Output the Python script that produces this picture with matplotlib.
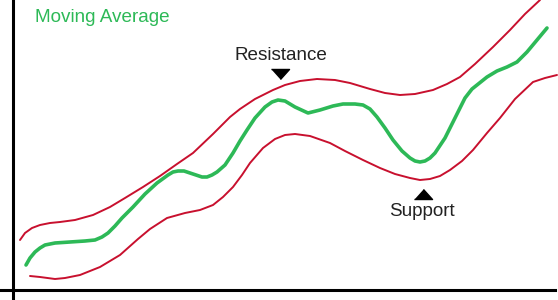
import matplotlib.pyplot as plt

# positions, in pixels (y grows downward)
ma_x = [26, 30, 35, 40, 45, 55, 70, 85, 95, 102, 108, 115, 122, 133, 145, 157, 168, 173,
        178, 184, 190, 196, 202, 207, 212, 217, 225, 233, 240, 247, 255, 265, 272,
        278, 285, 295, 308, 320, 333, 343, 355, 363, 370, 377, 385, 393, 402, 410,
        415, 420, 425, 430, 435, 445, 455, 465, 472, 477, 487, 497, 507, 517, 527,
        537, 547]
ma_y = [265, 258, 252, 248, 245, 243, 242, 241, 240, 237, 233, 226, 218, 207, 194, 183,
        175, 172, 171, 171, 173, 175, 177, 177, 175, 172, 165, 153, 141, 130, 118,
        107, 102, 100, 101, 107, 113, 110, 106, 104, 104, 105, 109, 117, 128, 140,
        151, 158, 161, 162, 161, 158, 153, 138, 118, 98, 89, 85, 77, 71, 67, 62,
        52, 40, 28]

upper_x = [20, 25, 32, 40, 50, 60, 75, 93, 110, 125, 143, 160, 177, 193, 213, 230,
           240, 255, 273, 285, 300, 317, 335, 350, 370, 385, 400, 415, 433, 447,
           460, 475, 493, 510, 525, 540]
upper_y = [240, 233, 228, 225, 223, 222, 220, 215, 207, 198, 187, 176, 164, 153, 134, 117,
           109, 99, 90, 85, 81, 79, 80, 83, 89, 93, 95, 94, 90, 84,
           77, 64, 47, 30, 14, 0]

lower_x = [30, 40, 55, 65, 80, 100, 120, 138, 150, 167, 185, 200, 213, 223, 233, 242,
           250, 263, 275, 285, 295, 310, 330, 345, 363, 380, 395, 410, 420, 430,
           440, 450, 462, 473, 487, 500, 515, 533, 545, 557]
lower_y = [276, 277, 279, 278, 275, 267, 255, 239, 229, 218, 213, 210, 205, 197, 187, 175,
           163, 148, 139, 135, 134, 136, 143, 151, 160, 168, 174, 178, 180, 179,
           176, 170, 161, 150, 133, 118, 99, 82, 78, 75]

GREEN = '#2db957'
RED = '#c8102e'
TXT = '#222222'

fig = plt.figure(figsize=(5.58, 3.0), dpi=100)
ax = fig.add_axes([0, 0, 1, 1])
ax.set_xlim(0, 558)
ax.set_ylim(300, 0)

ax.plot(upper_x, upper_y, color=RED, lw=1.4, solid_capstyle='round', solid_joinstyle='round')
ax.plot(lower_x, lower_y, color=RED, lw=1.4, solid_capstyle='round', solid_joinstyle='round')
ax.plot(ma_x, ma_y, color=GREEN, lw=2.6, solid_capstyle='round', solid_joinstyle='round')

# axis lines
for s in ['top', 'right']:
    ax.spines[s].set_visible(False)
ax.spines['left'].set_position(('data', 13))
ax.spines['left'].set_bounds(0, 298)
ax.spines['bottom'].set_position(('data', 290))
ax.spines['bottom'].set_bounds(0, 555)
for s in ['left', 'bottom']:
    ax.spines[s].set_linewidth(2.2)
    ax.spines[s].set_color('black')
ax.set_xticks([])
ax.set_yticks([])
ax.patch.set_alpha(0)

font = 'Liberation Sans'
ax.text(35, 18, 'Moving Average', color=GREEN, fontsize=13.6, family=font,
        ha='left', va='center')

down_tri = [(-9, 5), (9, 5), (0, -5)]
up_tri = [(-9, -5), (9, -5), (0, 5)]
ax.plot([280], [74], marker=down_tri, markersize=13, color='black', ls='none')
ax.text(281, 55, 'Resistance', color=TXT, fontsize=13.6, family=font,
        ha='center', va='center')
ax.plot([423], [194], marker=up_tri, markersize=13, color='black', ls='none')
ax.text(422, 212, 'Support', color=TXT, fontsize=13.6, family=font,
        ha='center', va='center')

fig.savefig('out.png', dpi=100)
